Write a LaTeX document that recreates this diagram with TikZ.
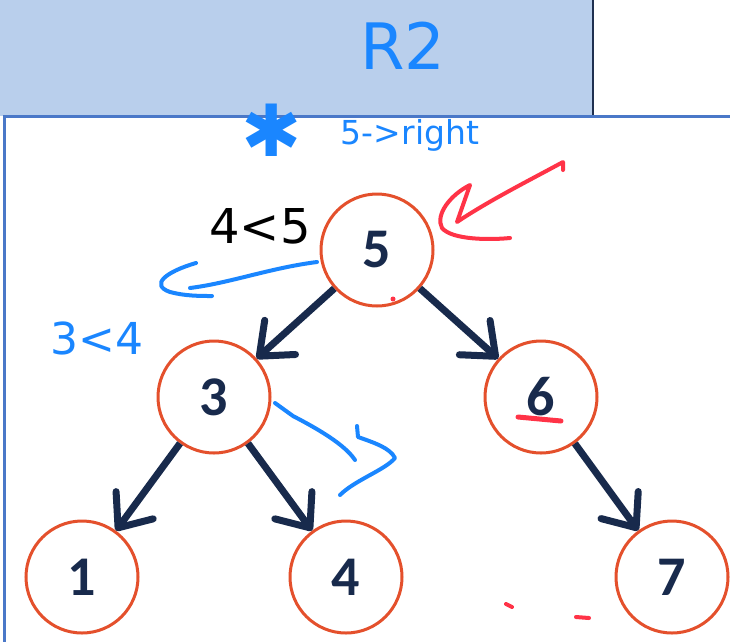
\documentclass[tikz,border=0pt]{standalone}
\usepackage{fontspec}
\setmainfont{Carlito}
\newfontfamily\handfont{DejaVu Sans}
\usetikzlibrary{arrows.meta}
\definecolor{topfill}{HTML}{B9CFEC}
\definecolor{panelline}{HTML}{4A78C8}
\definecolor{topedge}{HTML}{1F3050}
\definecolor{ringred}{HTML}{E4502C}
\definecolor{navy}{HTML}{182A4C}
\definecolor{inkblue}{HTML}{1A86FF}
\definecolor{inkred}{HTML}{FF3347}
\begin{document}
\begin{tikzpicture}[x=1pt,y=-1pt,
  treenode/.style={circle, draw=ringred, line width=3pt, fill=white,
    minimum size=112pt, inner sep=0pt,
    font=\fontsize{56}{56}\selectfont\bfseries, text=navy},
  edge/.style={draw=navy, line width=7pt,
    -{Straight Barb[length=28pt,width=46pt,line cap=round,line join=round]}},
  blueink/.style={draw=inkblue, line width=4pt, line cap=round, line join=round},
  redink/.style={draw=inkred, line width=4pt, line cap=round, line join=round},
  handtext/.style={inner sep=0pt}]

\useasboundingbox (0,0) rectangle (730,641);
\fill[white] (0,0) rectangle (730,641);

% header band and page panel
\fill[topfill] (0,0) rectangle (593,116);
\draw[topedge, line width=2pt] (593,0) -- (593,116);
\fill[white] (4,116) rectangle (735,645);
\draw[panelline, line width=2.5pt] (4.5,645) -- (4.5,116.5) -- (735,116.5);

% tree nodes
\node[treenode] (n5) at (377,250) {5};
\node[treenode] (n3) at (214,397) {3};
\node[treenode] (n6) at (541,397) {6};
\node[treenode] (n1) at (82,577) {1};
\node[treenode] (n4) at (346,577) {4};
\node[treenode] (n7) at (672,577) {7};

% tree edges
\draw[edge] (n5) -- (n3);
\draw[edge] (n5) -- (n6);
\draw[edge] (n3) -- (n1);
\draw[edge] (n3) -- (n4);
\draw[edge] (n6) -- (n7);

% handwritten notes
\node[handtext, text=inkblue, font=\handfont\fontsize{64}{64}\selectfont] (r2) at (403,46) {R2};
\node[handtext, text=inkblue, font=\handfont\fontsize{72}{72}\selectfont] (star) at (272,130) {✱};
\node[handtext, text=inkblue, font=\handfont\fontsize{33}{33}\selectfont] (rule) at (410,135) {5->right};
\node[handtext, text=black, font=\handfont\fontsize{48}{48}\selectfont] (cmp1) at (260,226) {4<5};
\node[handtext, text=inkblue, font=\handfont\fontsize{44}{44}\selectfont] (cmp2) at (97,338) {3<4};

% blue pen strokes
\draw[blueink] (317,262) .. controls (270,268) and (230,283) .. (190,288);
\draw[blueink] (196,263) .. controls (165,272) and (150,285) .. (170,292)
  .. controls (185,296) and (200,296) .. (212,296);
\draw[blueink] (275,403) -- (293,416) .. controls (320,430) and (345,445) .. (355,460);
\draw[blueink] (357,426) -- (358,437) .. controls (375,443) and (390,448) .. (395,458)
  .. controls (385,470) and (355,480) .. (340,495);

% red pen strokes
\draw[redink] (563,170) -- (563,162) .. controls (530,180) and (490,200) .. (457,222)
  -- (470,185) .. controls (450,195) and (435,215) .. (442,228)
  .. controls (452,240) and (490,240) .. (510,238);
\fill[inkred] (393,299) circle (2.5pt);
\draw[redink, line width=5pt] (518,417) -- (561,421);
\draw[redink] (506,604) -- (512,607);
\draw[redink] (576,617) -- (589,618);
\end{tikzpicture}
\end{document}
